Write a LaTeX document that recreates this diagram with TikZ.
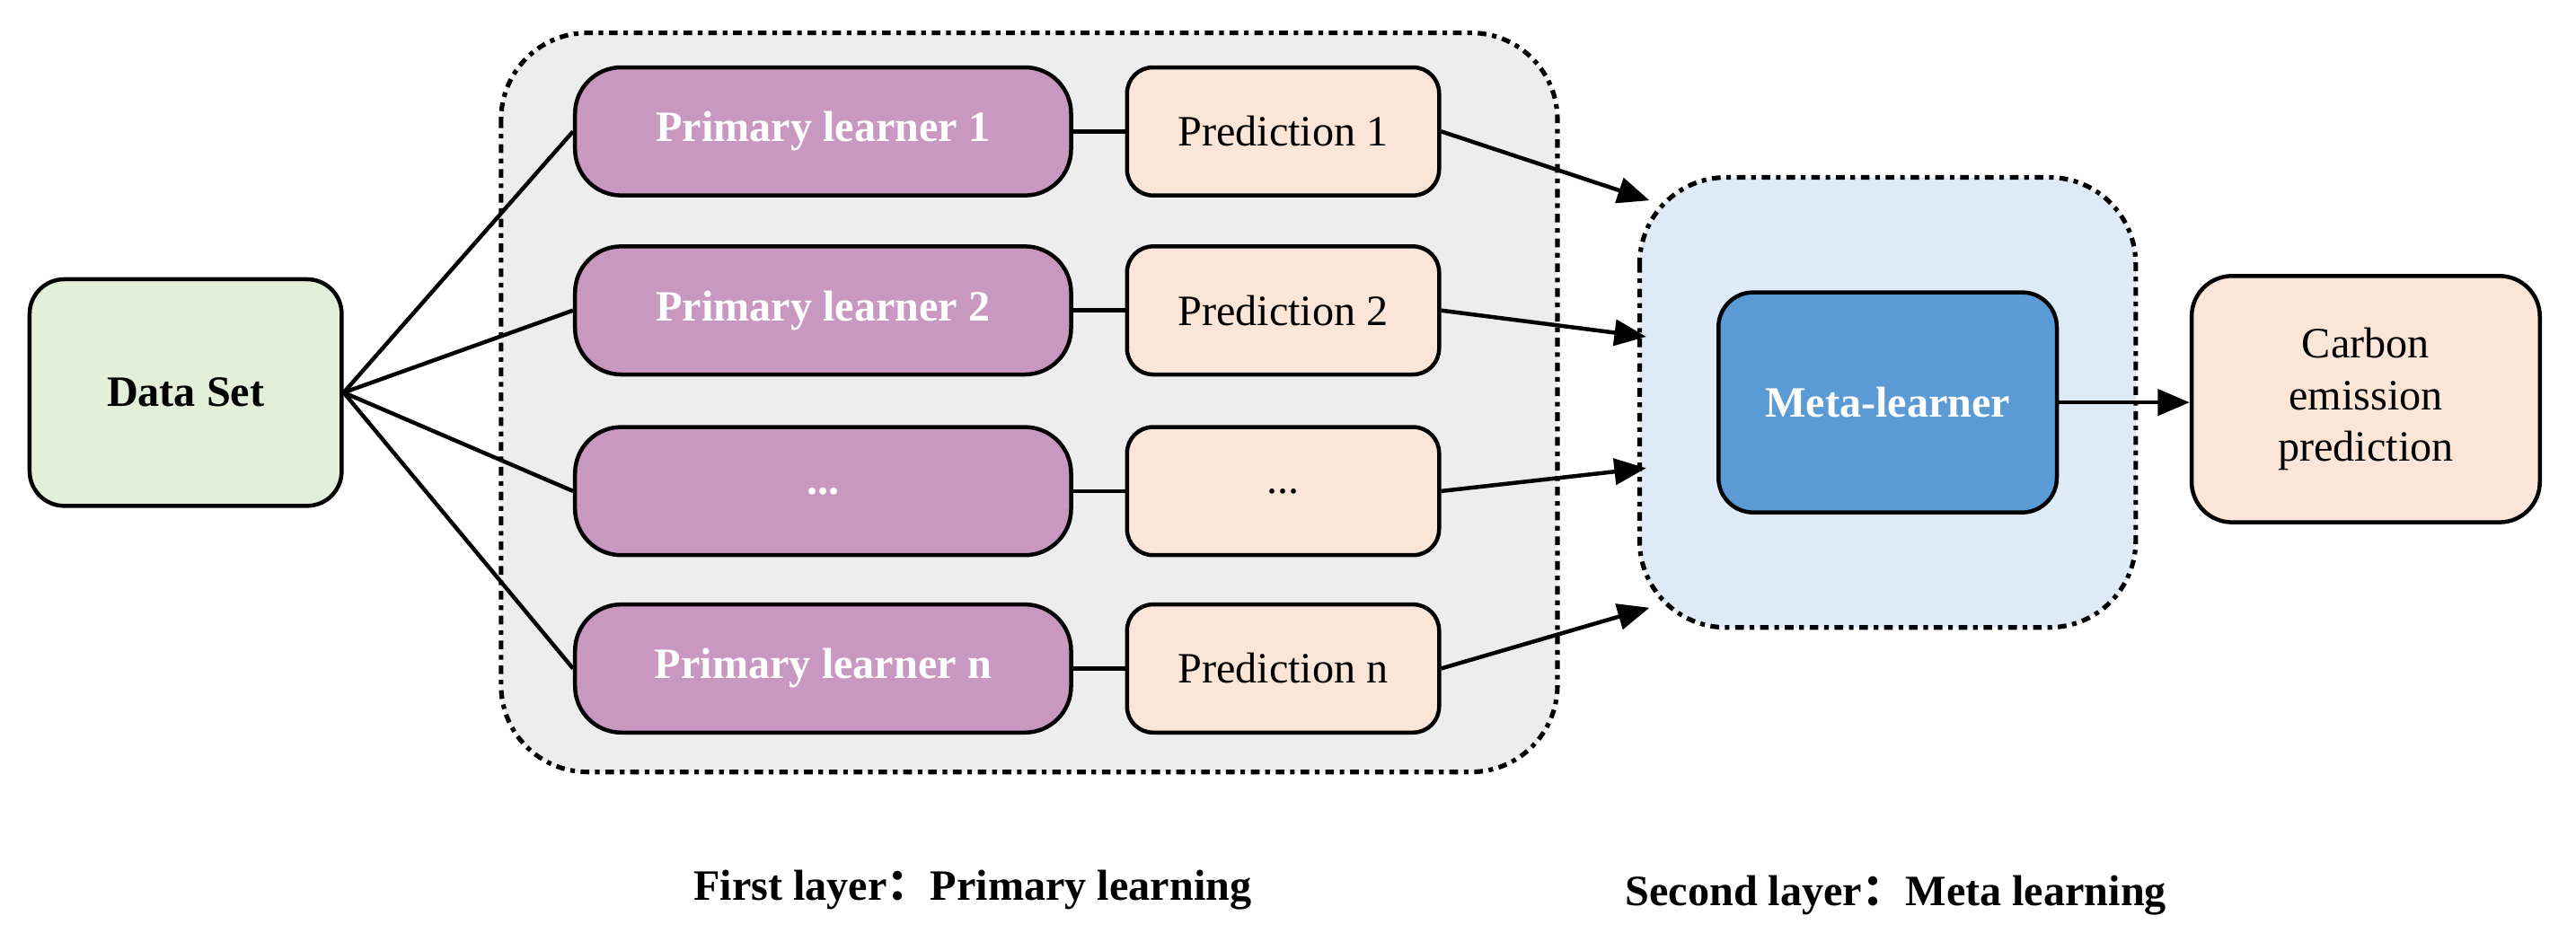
\documentclass[tikz,border=0pt]{standalone}
\usepackage{fontspec}
\setmainfont{Liberation Serif}
\newfontfamily\cjk{Noto Sans CJK SC}
\usetikzlibrary{arrows.meta}
\definecolor{lrn}{HTML}{C998C1}
\definecolor{pred}{HTML}{FBE5D6}
\definecolor{dsg}{HTML}{E2EFD9}
\definecolor{metabg}{HTML}{DEEBF7}
\definecolor{metab}{HTML}{5B9BD5}
\definecolor{outerbg}{HTML}{EDEDED}
\begin{document}
\begin{tikzpicture}[x=0.02cm,y=-0.02cm,
  font=\fontsize{15}{18}\selectfont,
  box/.style={draw=black,line width=1.4pt,rounded corners=12pt,inner sep=0pt,align=center},
  learner/.style={box,fill=lrn,text=white,font=\fontsize{15}{18}\selectfont\bfseries,minimum width=6.04cm,minimum height=1.56cm,rounded corners=16pt},
  pred/.style={box,fill=pred,minimum width=3.8cm,minimum height=1.56cm,rounded corners=9pt},
  frame/.style={draw=black,line width=1.6pt,dash dot,rounded corners=30pt},
  conn/.style={line width=1.4pt},
  arr/.style={line width=1.4pt,-{Triangle[length=11pt,width=9pt]}}]
\useasboundingbox (0,0) rectangle (1568,568);
\draw[frame,fill=outerbg] (305,20) rectangle (948,470);
\draw[frame,fill=metabg] (998,108) rectangle (1300,382);
\node[box,fill=dsg,font=\fontsize{15}{18}\selectfont\bfseries,minimum width=3.8cm,minimum height=2.76cm] (ds) at (113,239) {Data Set};
\node[learner] (l1) at (501,80) {Primary learner 1};
\node[learner] (l2) at (501,189) {Primary learner 2};
\node[learner] (l3) at (501,299) {...};
\node[learner] (l4) at (501,407) {Primary learner n};
\node[pred] (p1) at (781,80) {Prediction 1};
\node[pred] (p2) at (781,189) {Prediction 2};
\node[pred] (p3) at (781,299) {...};
\node[pred] (p4) at (781,407) {Prediction n};
\node[box,fill=metab,text=white,font=\fontsize{15}{18}\selectfont\bfseries,minimum width=4.12cm,minimum height=2.68cm] (ml) at (1149,245) {Meta-learner};
\node[box,fill=pred,minimum width=4.24cm,minimum height=3cm,rounded corners=14pt] (ce) at (1440,243) {Carbon\\emission\\prediction};
\foreach \i in {1,...,4}{
  \draw[conn] (ds.east) -- (l\i.west);
  \draw[conn] (l\i.east) -- (p\i.west);
}
\coordinate (a1) at (1004,122);
\coordinate (a2) at (1002,205);
\coordinate (a3) at (1002,285);
\coordinate (a4) at (1004,370);
\draw[arr] (p1.east) -- (a1);
\draw[arr] (p2.east) -- (a2);
\draw[arr] (p3.east) -- (a3);
\draw[arr] (p4.east) -- (a4);
\draw[arr] (ml.east) -- (ce.west |- ml.east);
\node[font=\fontsize{15}{18}\selectfont\bfseries] (t1) at (592,542) {First layer{\cjk ：}Primary learning};
\node[font=\fontsize{15}{18}\selectfont\bfseries] (t2) at (1154,545) {Second layer{\cjk ：}Meta learning};
\end{tikzpicture}
\end{document}
